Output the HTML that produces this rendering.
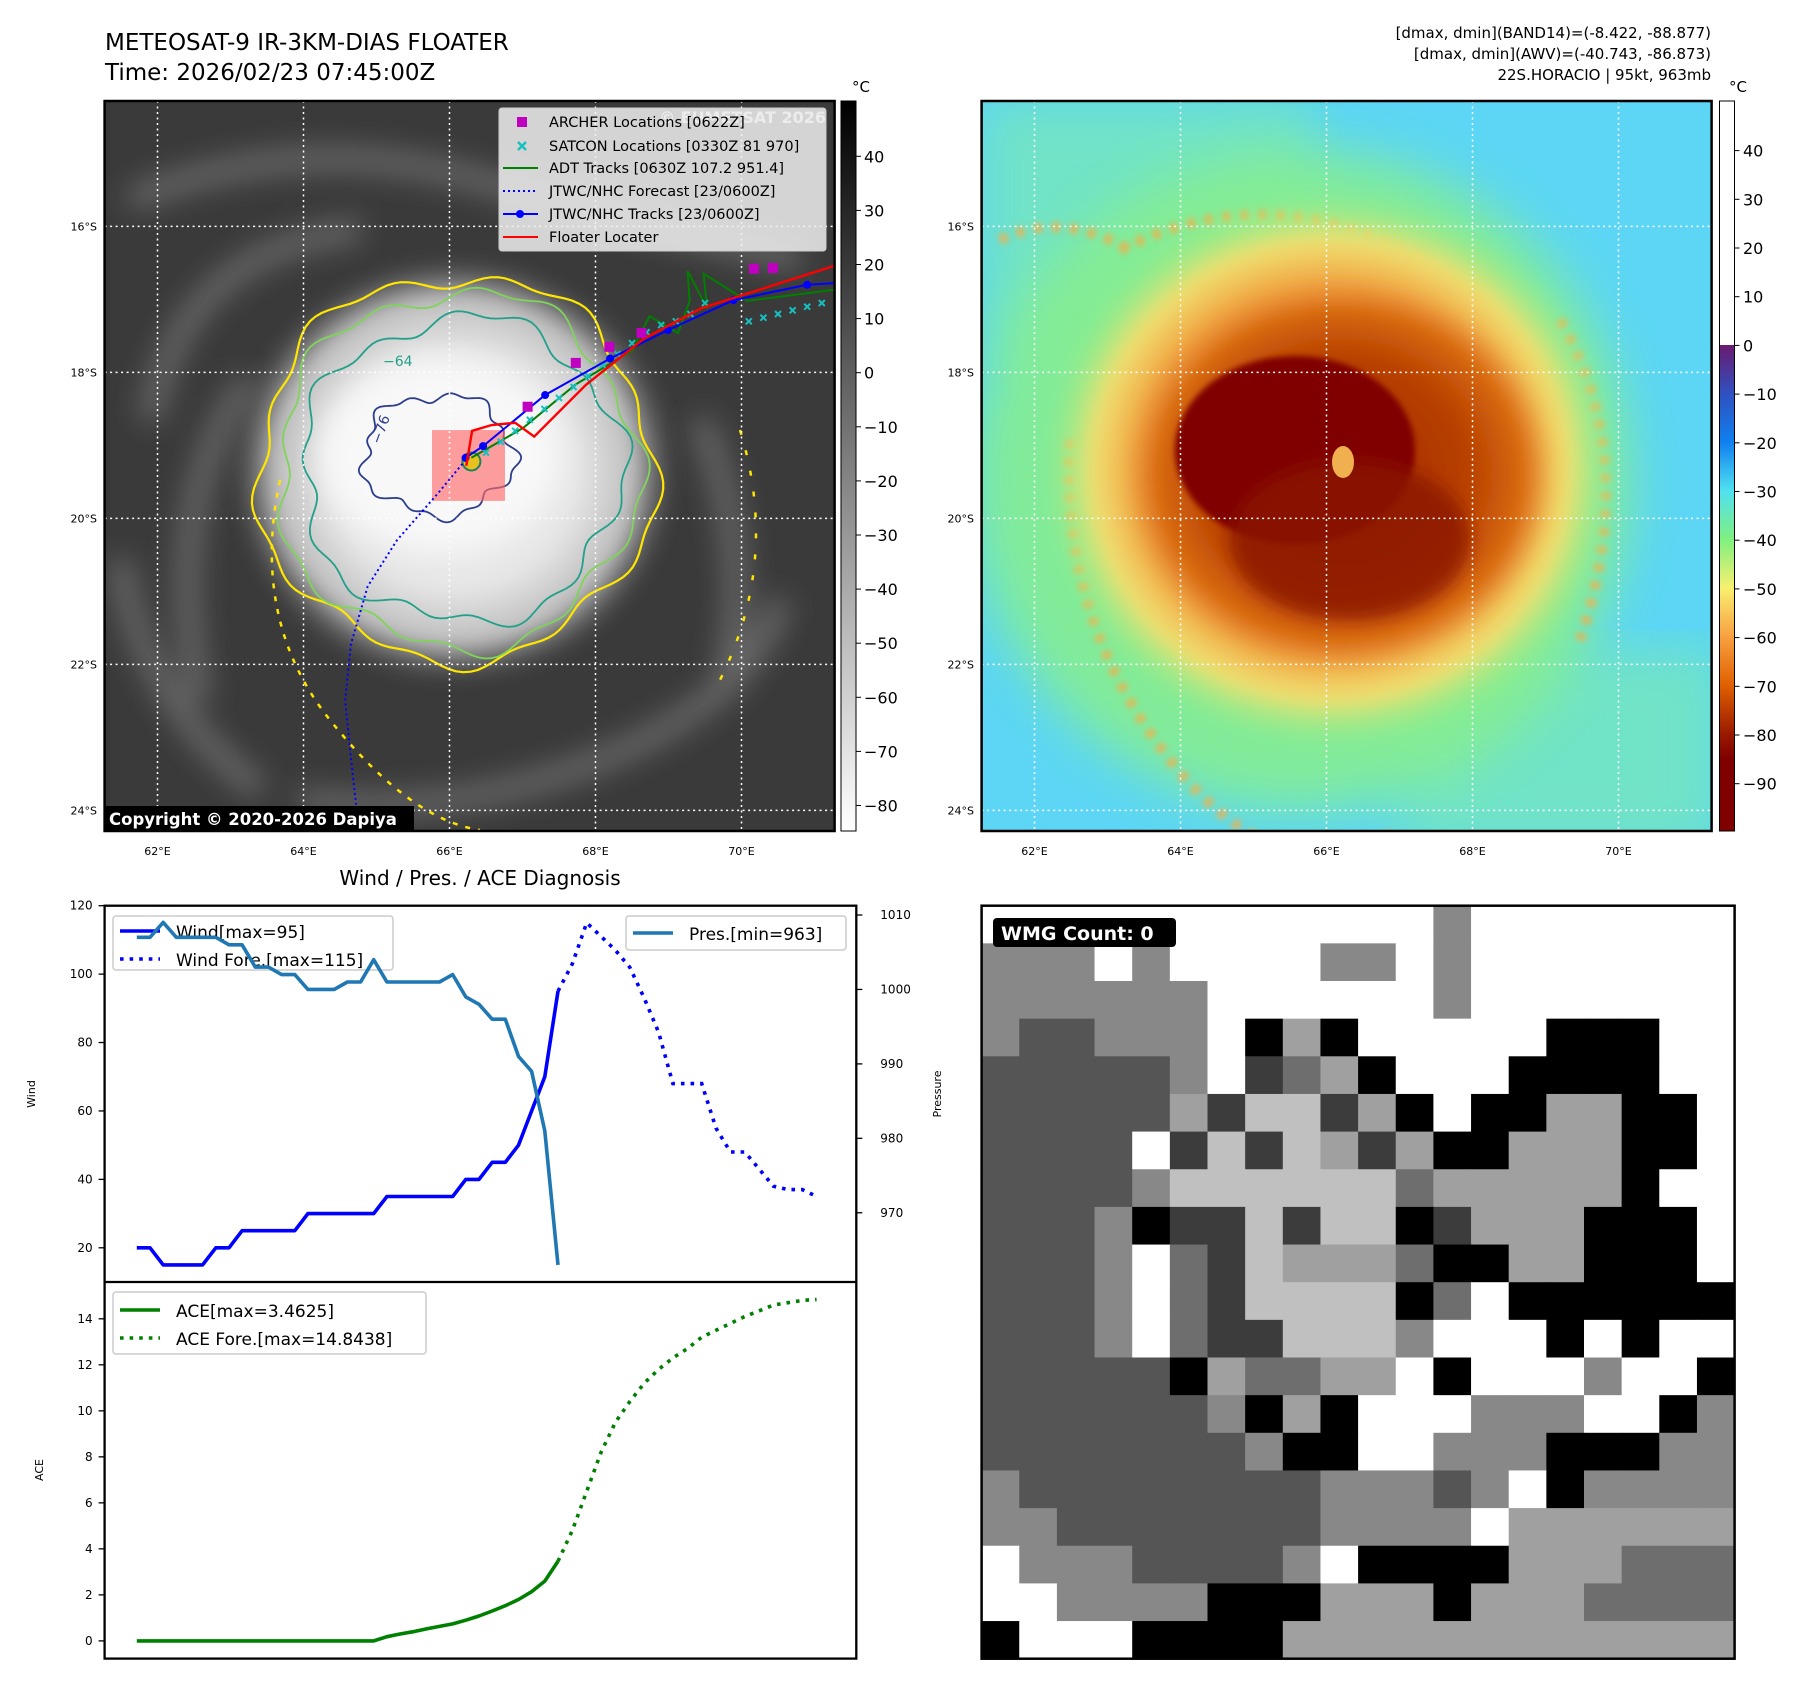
<!DOCTYPE html>
<html><head><meta charset="utf-8"><title>Dapiya Floater</title>
<style>
html,body{margin:0;padding:0;background:#fff;}
svg{display:block;font-family:"DejaVu Sans","Liberation Sans",sans-serif;}
</style></head>
<body>
<svg id="fig" xmlns="http://www.w3.org/2000/svg" width="1797" height="1690" viewBox="0 0 1797 1690">
<defs>
  <clipPath id="clipL"><rect x="104.6" y="101" width="730" height="730"/></clipPath>
  <clipPath id="clipR"><rect x="981.6" y="101" width="730" height="730"/></clipPath>
  <clipPath id="clipW"><rect x="981.6" y="905.7" width="753" height="753"/></clipPath>
  <filter id="blur8"><feGaussianBlur stdDeviation="8"/></filter>
  <filter id="blur4"><feGaussianBlur stdDeviation="3"/></filter>
  <filter id="blur14"><feGaussianBlur stdDeviation="14"/></filter>
  <filter id="blur25"><feGaussianBlur stdDeviation="25"/></filter>
  <radialGradient id="cloudG" cx="0.5" cy="0.5" r="0.5">
    <stop offset="0" stop-color="#f4f4f4"/><stop offset="0.55" stop-color="#e6e6e6"/>
    <stop offset="0.8" stop-color="#bdbdbd"/><stop offset="1" stop-color="#5a5a5a" stop-opacity="0"/>
  </radialGradient>
  <radialGradient id="ringG" cx="0.5" cy="0.5" r="0.5">
    <stop offset="0" stop-color="#e07020"/><stop offset="0.65" stop-color="#f0a040"/>
    <stop offset="0.82" stop-color="#f0e070"/><stop offset="1" stop-color="#90ee80" stop-opacity="0"/>
  </radialGradient>
  <radialGradient id="coreG" cx="0.5" cy="0.5" r="0.5">
    <stop offset="0" stop-color="#a02800"/><stop offset="0.6" stop-color="#b84000"/>
    <stop offset="0.85" stop-color="#d86a10"/><stop offset="1" stop-color="#e88a30" stop-opacity="0"/>
  </radialGradient>
  <linearGradient id="cbGray" x1="0" y1="0" x2="0" y2="1">
    <stop offset="0" stop-color="#000"/><stop offset="1" stop-color="#fff"/>
  </linearGradient>
  <linearGradient id="cbColor" x1="0" y1="0" x2="0" y2="1">
    <stop offset="0" stop-color="#6a1a70"/><stop offset="0.1" stop-color="#3050c0"/>
    <stop offset="0.2" stop-color="#1080f0"/><stop offset="0.3" stop-color="#50e0f0"/>
    <stop offset="0.4" stop-color="#80f080"/><stop offset="0.5" stop-color="#f8f070"/>
    <stop offset="0.6" stop-color="#f8a040"/><stop offset="0.7" stop-color="#e06000"/>
    <stop offset="0.8" stop-color="#9a1a00"/><stop offset="0.85" stop-color="#800000"/>
    <stop offset="1" stop-color="#800000"/>
  </linearGradient>
</defs>

<!-- Titles -->
<text x="105" y="50" font-size="23" fill="#000">METEOSAT-9 IR-3KM-DIAS FLOATER</text>
<text x="105" y="80" font-size="23" fill="#000">Time: 2026/02/23 07:45:00Z</text>
<text x="1711" y="38" font-size="15" text-anchor="end">[dmax, dmin](BAND14)=(-8.422, -88.877)</text>
<text x="1711" y="59" font-size="15" text-anchor="end">[dmax, dmin](AWV)=(-40.743, -86.873)</text>
<text x="1711" y="80" font-size="15" text-anchor="end">22S.HORACIO | 95kt, 963mb</text>

<!-- Left map imagery -->
<g clip-path="url(#clipL)">
  <rect x="104.6" y="101" width="730" height="730" fill="#3a3a3a"/>
  <g filter="url(#blur14)" fill="none" stroke="#6a6a6a" stroke-width="22">
    <path d="M130 200 Q300 130 480 180 T800 260"/>
    <path d="M150 420 Q180 250 360 230"/>
    <path d="M200 700 Q160 500 250 380"/>
    <path d="M300 800 Q450 820 600 760 T780 600"/>
    <path d="M700 420 Q760 560 720 700"/>
    <path d="M120 560 Q140 700 260 790"/>
  </g>
  <ellipse cx="454" cy="470" rx="225" ry="215" fill="url(#cloudG)" filter="url(#blur8)"/>
  <ellipse cx="440" cy="455" rx="120" ry="95" fill="#f8f8f8" filter="url(#blur14)"/>
</g>
<g id="leftOverlay" clip-path="url(#clipL)"></g>
<rect x="104.6" y="101" width="730" height="730" fill="none" stroke="#000" stroke-width="2.5"/>

<!-- Right map imagery -->
<g clip-path="url(#clipR)">
  <rect x="981.6" y="101" width="730" height="730" fill="#5cd6f4"/>
  <rect x="981.6" y="101" width="330" height="260" fill="#80eca8" opacity="0.6" filter="url(#blur25)"/>
  <rect x="1400" y="650" width="320" height="200" fill="#80eca8" opacity="0.6" filter="url(#blur25)"/>
  <ellipse cx="1300" cy="480" rx="330" ry="330" fill="#86ee90" opacity="0.9" filter="url(#blur25)"/>
  <g fill="none" stroke="#f0b050" stroke-width="10" stroke-dasharray="8,10" filter="url(#blur4)" opacity="0.85">
    <path d="M1070 440 Q1060 620 1170 760 T1400 830"/>
    <path d="M1120 250 Q1300 160 1480 300"/>
    <path d="M1560 320 Q1640 460 1580 640"/>
    <path d="M1000 240 Q1060 210 1130 250"/>
  </g>
  <ellipse cx="1330" cy="470" rx="290" ry="280" fill="url(#ringG)" filter="url(#blur8)"/>
  <ellipse cx="1340" cy="475" rx="215" ry="195" fill="url(#coreG)" filter="url(#blur8)"/>
  <ellipse cx="1295" cy="450" rx="120" ry="94" fill="#800000" filter="url(#blur4)"/>
  <ellipse cx="1350" cy="540" rx="120" ry="80" fill="#8a1800" opacity="0.8" filter="url(#blur8)"/>
  <ellipse cx="1343" cy="462" rx="11" ry="16" fill="#f0b050"/>
</g>
<g id="rightOverlay" clip-path="url(#clipR)"></g>
<rect x="981.6" y="101" width="730" height="730" fill="none" stroke="#000" stroke-width="2.5"/>

<!-- Colorbars -->
<rect x="841" y="101" width="15" height="730" fill="url(#cbGray)" stroke="#000" stroke-width="1"/>
<text x="852" y="92" font-size="15">°C</text>
<rect x="1719.5" y="101" width="15" height="244" fill="#fff"/>
<rect x="1719.5" y="345" width="15" height="486" fill="url(#cbColor)"/>
<rect x="1719.5" y="101" width="15" height="730" fill="none" stroke="#000" stroke-width="1"/>
<text x="1729" y="92" font-size="15">°C</text>
<g id="cbTicks"></g>

<!-- Diagnosis chart -->
<text x="480" y="885" font-size="20" text-anchor="middle">Wind / Pres. / ACE Diagnosis</text>
<g id="chart"></g>

<!-- WMG panel -->
<g id="wmg" clip-path="url(#clipW)"></g>
<rect x="981.6" y="905.7" width="753" height="753" fill="none" stroke="#000" stroke-width="2.5"/>
<rect x="993" y="918" width="183" height="29" rx="4" fill="#000"/>
<text x="1001" y="940" font-size="19" font-weight="bold" fill="#fff">WMG Count: 0</text>

<script>
const NS = "http://www.w3.org/2000/svg";
function mk(tag, attrs, parent) {
  const e = document.createElementNS(NS, tag);
  for (const k in attrs) e.setAttribute(k, attrs[k]);
  parent.appendChild(e);
  return e;
}
function txt(parent, x, y, s, size, anchor) {
  const t = mk('text', {x: x, y: y, 'font-size': size, 'text-anchor': anchor || 'start', fill: '#000'}, parent);
  t.textContent = s;
  return t;
}

/* ---------------- Diagnosis chart data ---------------- */
const windObs = [20,20,15,15,15,15,20,20,25,25,25,25,25,30,30,30,30,30,30,35,35,35,35,35,35,40,40,45,45,50,60,70,95];
const presObs = [1007,1007,1009,1007,1007,1007,1007,1006,1006,1003,1003,1002,1002,1000,1000,1000,1001,1001,1004,1001,1001,1001,1001,1001,1002,999,998,996,996,991,989,981,963];
const aceObs = [0,0,0,0,0,0,0,0,0,0,0,0,0,0,0,0,0,0,0,0.18,0.3,0.4,0.52,0.63,0.74,0.9,1.08,1.3,1.53,1.8,2.14,2.6,3.46];
const windFcst = [95,103,115,111,107,102,93,83,68,68,68,55,48,48,43,38,37,37,35];
const aceFcst = [3.46,4.8,6.5,8.2,9.5,10.4,11.2,11.8,12.3,12.7,13.2,13.5,13.8,14.1,14.35,14.6,14.7,14.8,14.84];
const fcstStep = 1.092;
const windTicks = [20,40,60,80,100,120];
const presTicks = [970,980,990,1000,1010];
const aceTicks = [0,2,4,6,8,10,12,14];

const AX = {x0:104.6, x1:856.3, yTop:905.7, yMid:1282, yBot:1658.6};
const IDX = [-2.45, 54.67];
function xs(i){ return AX.x0 + (i - IDX[0]) / (IDX[1]-IDX[0]) * (AX.x1-AX.x0); }
function yw(v){ return AX.yMid - (v-10)/110 * (AX.yMid-AX.yTop); }
function yp(v){ return AX.yMid - (v-960.7)/50.55 * (AX.yMid-AX.yTop); }
function ya(v){ return AX.yBot - (v+0.77)/16.37 * (AX.yBot-AX.yMid); }
function pathFrom(vals, xf, yf){ return vals.map((v,i)=>(i?'L':'M')+xf(i).toFixed(1)+' '+yf(v).toFixed(1)).join(' '); }

const ch = document.getElementById('chart');
windTicks.forEach(v=>{
  const y = yw(v);
  const l = mk('line',{x1:AX.x0-6,x2:AX.x0,y1:y,y2:y,stroke:'#000','stroke-width':1.3},ch);
  
  
  const t = txt(ch, AX.x0-12, y+4, String(v), 12, 'end');
  
  
});
presTicks.forEach(v=>{
  const y = yp(v);
  const l = mk('line',{x1:AX.x1,x2:AX.x1+6,y1:y,y2:y,stroke:'#000','stroke-width':1.3},ch);
  
  
  const t = txt(ch, AX.x1+24, y+4, String(v), 12, 'start');
  
  
});
aceTicks.forEach(v=>{
  const y = ya(v);
  const l = mk('line',{x1:AX.x0-6,x2:AX.x0,y1:y,y2:y,stroke:'#000','stroke-width':1.3},ch);
  
  
  const t = txt(ch, AX.x0-12, y+4, String(v), 12, 'end');
  
  
});
let yl = txt(ch, 0, 0, 'Wind', 11, 'middle');
yl.setAttribute('transform','translate(35,1094) rotate(-90)');


yl = txt(ch, 0, 0, 'Pressure', 11, 'middle');
yl.setAttribute('transform','translate(941,1094) rotate(-90)');


yl = txt(ch, 0, 0, 'ACE', 11, 'middle');
yl.setAttribute('transform','translate(43,1470) rotate(-90)');



const wl = mk('path',{d:pathFrom(windObs,i=>xs(i),yw),fill:'none',stroke:'#0000ff','stroke-width':3.6,'stroke-linejoin':'round'},ch);


const wf = mk('path',{d:pathFrom(windFcst,j=>xs(windObs.length-1+j*fcstStep),yw),fill:'none',stroke:'#0000ff','stroke-width':3.6,'stroke-dasharray':'3.6,6'},ch);


const lg1 = mk('rect',{x:113,y:916,width:280,height:54,rx:3,fill:'#fff','fill-opacity':0.8,stroke:'#cccccc','stroke-width':1.5},ch);


let s = mk('line',{x1:120,x2:160,y1:931,y2:931,stroke:'#0000ff','stroke-width':3.6},ch);


s = txt(ch,176,938,'Wind[max=95]',17);


s = mk('line',{x1:120,x2:160,y1:959,y2:959,stroke:'#0000ff','stroke-width':3.6,'stroke-dasharray':'3.6,6'},ch);


s = txt(ch,176,966,'Wind Fore.[max=115]',17);


const pl = mk('path',{d:pathFrom(presObs,i=>xs(i),yp),fill:'none',stroke:'#1f77b4','stroke-width':3.6,'stroke-linejoin':'round'},ch);


const lg2 = mk('rect',{x:626,y:916,width:220,height:34,rx:3,fill:'#fff','fill-opacity':0.8,stroke:'#cccccc','stroke-width':1.5},ch);


s = mk('line',{x1:633,x2:673,y1:933,y2:933,stroke:'#1f77b4','stroke-width':3.6},ch);


s = txt(ch,689,940,'Pres.[min=963]',17);


const al = mk('path',{d:pathFrom(aceObs,i=>xs(i),ya),fill:'none',stroke:'#008000','stroke-width':3.6,'stroke-linejoin':'round'},ch);


const af = mk('path',{d:pathFrom(aceFcst,j=>xs(aceObs.length-1+j*fcstStep),ya),fill:'none',stroke:'#008000','stroke-width':3.6,'stroke-dasharray':'3.6,6'},ch);


const lg3 = mk('rect',{x:113,y:1292,width:313,height:62,rx:3,fill:'#fff','fill-opacity':0.8,stroke:'#cccccc','stroke-width':1.5},ch);


s = mk('line',{x1:120,x2:160,y1:1310,y2:1310,stroke:'#008000','stroke-width':3.6},ch);


s = txt(ch,176,1317,'ACE[max=3.4625]',17);


s = mk('line',{x1:120,x2:160,y1:1338,y2:1338,stroke:'#008000','stroke-width':3.6,'stroke-dasharray':'3.6,6'},ch);


s = txt(ch,176,1345,'ACE Fore.[max=14.8438]',17);


let fr = mk('rect',{x:AX.x0,y:AX.yTop,width:AX.x1-AX.x0,height:AX.yBot-AX.yTop,fill:'none',stroke:'#000','stroke-width':2.3},ch);


fr = mk('line',{x1:AX.x0,x2:AX.x1,y1:AX.yMid,y2:AX.yMid,stroke:'#000','stroke-width':2.3},ch);



/* ---------------- Map data ---------------- */
const lonTicks = [62,64,66,68,70];
const latTicks = [16,18,20,22,24];
const jtwcLon = [66.22,66.46,67.31,68.20,68.99,69.89,70.90,71.4];
const jtwcLat = [19.17,19.01,18.31,17.81,17.42,17.01,16.80,16.77];
const fcstLon = [66.22,65.83,65.28,64.88,64.65,64.57,64.65,64.72];
const fcstLat = [19.20,19.67,20.30,20.93,21.72,22.50,23.29,23.92];
const floaterLon = [66.23,66.31,66.58,66.90,67.16,67.87,68.66,69.45,71.4];
const floaterLat = [19.28,18.80,18.72,18.69,18.88,18.17,17.54,17.12,16.5];
const adtLon = [66.30,67.01,67.72,68.50,68.74,69.13,69.29,69.26,69.53,69.48,70.08,71.4];
const adtLat = [19.17,18.76,18.17,17.70,17.23,17.46,17.02,16.61,17.12,16.65,17.02,16.85];
const satconLon = [66.5,66.7,66.9,67.1,67.3,67.5,67.7,67.9,68.1,68.3,68.5,68.7,68.9,69.1,69.3,69.5,70.1,70.3,70.5,70.7,70.9,71.1];
const satconLat = [19.1,18.95,18.8,18.65,18.5,18.35,18.2,18.05,17.9,17.75,17.6,17.45,17.35,17.3,17.2,17.05,17.3,17.25,17.2,17.15,17.1,17.05];
const archerLon = [67.07,67.73,68.19,68.63,70.17,70.43];
const archerLat = [18.47,17.87,17.65,17.46,16.58,16.57];
const irTicks = [40,30,20,10,0,-10,-20,-30,-40,-50,-60,-70,-80];
const awvTicks = [40,30,20,10,0,-10,-20,-30,-40,-50,-60,-70,-80,-90];

function lonX(lon, off){ return 157.5 + (lon-62)*73 + off; }
function latY(lat){ return 226.4 + (lat-16)*73; }
function geoPath(lons, lats, off){ return lons.map((v,i)=>(i?'L':'M')+lonX(v,off).toFixed(1)+' '+latY(lats[i]).toFixed(1)).join(' '); }

function wobble(cx, cy, rx, ry, a1, a2, ph){
  let d = '';
  for (let k=0;k<=180;k++){
    const t = k/180*Math.PI*2;
    const r = 1 + a1*Math.sin(5*t+ph) + a2*Math.sin(13*t+2*ph);
    d += (k?'L':'M') + (cx+rx*r*Math.cos(t)).toFixed(1)+' '+(cy+ry*r*Math.sin(t)).toFixed(1);
  }
  return d+'Z';
}

const LO = document.getElementById('leftOverlay');
const RO = document.getElementById('rightOverlay');
let c = mk('path',{d:wobble(456,468,198,192,0.04,0.025,0.3),fill:'none',stroke:'#ffe600','stroke-width':2.2},LO);


c = mk('path',{d:wobble(458,470,180,178,0.045,0.03,1.1),fill:'none',stroke:'#7fd45a','stroke-width':1.8},LO);


c = mk('path',{d:wobble(462,470,160,152,0.05,0.035,2.0),fill:'none',stroke:'#22a08a','stroke-width':1.8},LO);


c = mk('path',{d:wobble(438,455,75,60,0.08,0.05,0.7),fill:'none',stroke:'#2c3e8c','stroke-width':1.8},LO);


c = mk('path',{d:'M280 480 Q250 620 330 720 T480 830',fill:'none',stroke:'#ffe600','stroke-width':2.5,'stroke-dasharray':'5,8'},LO);


c = mk('path',{d:'M740 430 Q780 560 720 680',fill:'none',stroke:'#ffe600','stroke-width':2.5,'stroke-dasharray':'5,16'},LO);


c = mk('text',{x:380,y:445,'font-size':14,fill:'#2c3e8c',transform:'rotate(-70 380 445)'},LO);
c.textContent = '−76';


c = mk('text',{x:383,y:366,'font-size':14,fill:'#22a08a'},LO);
c.textContent = '−64';



const rb = mk('rect',{x:lonX(65.76,0),y:latY(18.79),width:(66.76-65.76)*73,height:(19.76-18.79)*73,fill:'#ff6a6a','fill-opacity':0.65},LO);


const eyec = mk('circle',{cx:lonX(66.3,0),cy:latY(19.22),r:9,fill:'#e8c020',stroke:'#208060','stroke-width':2},LO);



[0, 877].forEach((off, mi)=>{
  const G = mi ? RO : LO;
  lonTicks.forEach(lon=>{
    const l = mk('line',{x1:lonX(lon,off),x2:lonX(lon,off),y1:101,y2:831,stroke:'#fff','stroke-width':1.5,'stroke-dasharray':'2,3.5'},G);
    
    
    const t = txt(document.getElementById('fig'), lonX(lon,off), 855, lon+'°E', 11, 'middle');
    
    
  });
  latTicks.forEach(lat=>{
    const l = mk('line',{x1:104.6+off,x2:834.6+off,y1:latY(lat),y2:latY(lat),stroke:'#fff','stroke-width':1.5,'stroke-dasharray':'2,3.5'},G);
    
    
    const t = txt(document.getElementById('fig'), 97+off, latY(lat)+4, lat+'°S', 11, 'end');
    
    
  });
});

let tr = mk('path',{d:geoPath(fcstLon,fcstLat,0),fill:'none',stroke:'#0000ff','stroke-width':2,'stroke-dasharray':'2,3'},LO);


tr = mk('path',{d:geoPath(adtLon,adtLat,0),fill:'none',stroke:'#008000','stroke-width':2},LO);


satconLon.forEach((lon,i)=>{
  const x = lonX(lon,0), y = latY(satconLat[i]);
  const m = mk('path',{d:`M${x-3} ${y-3}L${x+3} ${y+3}M${x-3} ${y+3}L${x+3} ${y-3}`,stroke:'#17c0c0','stroke-width':2},LO);
  
  
});
tr = mk('path',{d:geoPath(jtwcLon,jtwcLat,0),fill:'none',stroke:'#0000ff','stroke-width':2},LO);


jtwcLon.forEach((lon,i)=>{
  const d = mk('circle',{cx:lonX(lon,0),cy:latY(jtwcLat[i]),r:4,fill:'#0000ff'},LO);
  
  
});
tr = mk('path',{d:geoPath(floaterLon,floaterLat,0),fill:'none',stroke:'#ff0000','stroke-width':2.4},LO);


archerLon.forEach((lon,i)=>{
  const q = mk('rect',{x:lonX(lon,0)-5,y:latY(archerLat[i])-5,width:10,height:10,fill:'#c000c0'},LO);
  
  
});

const svgRoot = document.getElementById('fig');
let wm = txt(svgRoot, 826, 123, '© EUMETSAT 2026', 16, 'end');
wm.setAttribute('fill','#d8d8d8');
wm.setAttribute('font-weight','bold');


const ml = mk('rect',{x:499,y:108,width:327,height:143,rx:3,fill:'#f0f0f0','fill-opacity':0.85,stroke:'#cccccc','stroke-width':1},svgRoot);


const legRows = [122,146,168,191,214,237];
const legText = ['ARCHER Locations [0622Z]','SATCON Locations [0330Z 81 970]','ADT Tracks [0630Z 107.2 951.4]','JTWC/NHC Forecast [23/0600Z]','JTWC/NHC Tracks [23/0600Z]','Floater Locater'];
let sw = mk('rect',{x:517,y:legRows[0]-5,width:10,height:10,fill:'#c000c0'},svgRoot);


sw = mk('path',{d:`M518 ${legRows[1]-4}L526 ${legRows[1]+4}M518 ${legRows[1]+4}L526 ${legRows[1]-4}`,stroke:'#17c0c0','stroke-width':2.5},svgRoot);


sw = mk('line',{x1:503,x2:538,y1:legRows[2],y2:legRows[2],stroke:'#008000','stroke-width':2},svgRoot);


sw = mk('line',{x1:503,x2:538,y1:legRows[3],y2:legRows[3],stroke:'#0000ff','stroke-width':2,'stroke-dasharray':'2,3'},svgRoot);


sw = mk('line',{x1:503,x2:538,y1:legRows[4],y2:legRows[4],stroke:'#0000ff','stroke-width':2},svgRoot);


sw = mk('circle',{cx:520,cy:legRows[4],r:4,fill:'#0000ff'},svgRoot);


sw = mk('line',{x1:503,x2:538,y1:legRows[5],y2:legRows[5],stroke:'#ff0000','stroke-width':2},svgRoot);


legText.forEach((s2,i)=>{
  const t = txt(svgRoot, 549, legRows[i]+5, s2, 14.5);
  
  
});
const cp = mk('rect',{x:105,y:806,width:309,height:25,fill:'#000'},svgRoot);


const cpt = txt(svgRoot, 109, 825, 'Copyright © 2020-2026 Dapiya', 16.5);
cpt.setAttribute('fill','#fff');
cpt.setAttribute('font-weight','bold');



const CB = document.getElementById('cbTicks');
irTicks.forEach(v=>{
  const y = 156.3 + (40-v)*5.41;
  const l = mk('line',{x1:856,x2:861,y1:y,y2:y,stroke:'#000','stroke-width':1},CB);
  
  
  const t = txt(CB, 864, y+6, String(v).replace('-','−'), 16);
  
  
});
awvTicks.forEach(v=>{
  const y = 150.6 + (40-v)*4.87;
  const l = mk('line',{x1:1734.5,x2:1739.5,y1:y,y2:y,stroke:'#000','stroke-width':1},CB);
  
  
  const t = txt(CB, 1743, y+6, String(v).replace('-','−'), 16);
  
  
});

/* ---------------- WMG grid ---------------- */
const wmgRows = [
"WWWWWWWWWWWW2WWWWWWW",
"222W2WWWW22W2WWWWWWW",
"222222WWWWWW2WWWWWWW",
"211222WB3BWWWWWBBBWW",
"111112W563BWWWBBBBWW",
"11111354453BWBB33BBW",
"1111W5454353BB333BBW",
"11112444444633333BWW",
"1112B554544B5333BBBW",
"1112W6543336BB33BBBW",
"1112W654444B6WBBBBBB",
"1112W6554442WWWBWBWW",
"11111B36633WBWWW2WWB",
"1111112B3BWWW222WWB2",
"11111112BBWW222BBB22",
"21111111122212WB2222",
"2211111112222W333333",
"W22211112WBBBB333666",
"WW2222BBB333B3336666",
"BWWWBBBB333333333333"
];
const wmgColors = {W:'#ffffff',B:'#000000','1':'#555555','2':'#888888','3':'#a0a0a0','4':'#c0c0c0','5':'#3c3c3c','6':'#6e6e6e'};
const WG = document.getElementById('wmg');
const cell = 753/20;
wmgRows.forEach((row,r)=>{
  for (let ci=0; ci<20; ci++){
    const ch2 = row[ci] || 'W';
    const rc = mk('rect',{x:(981.6+ci*cell).toFixed(2),y:(905.7+r*cell).toFixed(2),width:(cell+0.6).toFixed(2),height:(cell+0.6).toFixed(2),fill:wmgColors[ch2]},WG);
    
    
  }
});
</script>
</svg>
</body></html>
